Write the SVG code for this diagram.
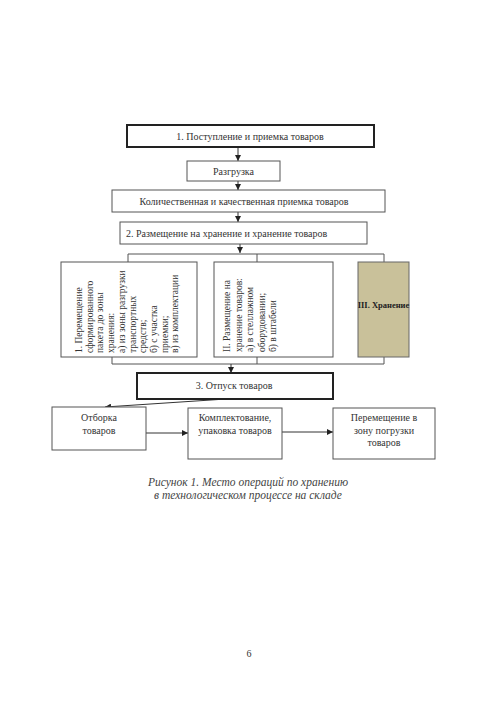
<svg xmlns="http://www.w3.org/2000/svg" width="500" height="710" viewBox="0 0 500 710">
<style>
.box{fill:#fff;stroke:#555;stroke-width:1}
.thick{fill:#fff;stroke:#222;stroke-width:2}
.khaki{fill:#c9c19a;stroke:#666;stroke-width:1}
text{font-family:"Liberation Serif","Times New Roman",serif;font-size:10px;fill:#333}
.c{text-anchor:middle}
.v{font-size:9.5px}
.b{font-weight:bold;font-size:8.5px;fill:#222}
.cap{font-style:italic;font-size:11.5px;text-anchor:middle;fill:#444}
.ln{fill:none;stroke:#555;stroke-width:1}
.ar{fill:none;stroke:#333;stroke-width:1;marker-end:url(#ah)}
</style>
<defs>
<marker id="ah" viewBox="0 0 10 10" refX="10" refY="5" markerWidth="6" markerHeight="6" markerUnits="userSpaceOnUse" orient="auto">
<path d="M0,0 L10,5 L0,10 z" fill="#222"/>
</marker>
</defs>
<rect width="500" height="710" fill="#fff"/>

<g id="connectors">
<line class="ar" x1="238" y1="147" x2="238" y2="161"/>
<line class="ar" x1="238" y1="181" x2="238" y2="190"/>
<line class="ar" x1="238" y1="212" x2="238" y2="222"/>
<line class="ar" x1="240" y1="244" x2="240" y2="253"/>
<polyline class="ln" points="128,262 128,254 384,254 384,262"/>
<line class="ln" x1="257" y1="254" x2="257" y2="262"/>
<polyline class="ln" points="112,357 112,364 384,364 384,357"/>
<line class="ln" x1="257" y1="357" x2="257" y2="364"/>
<line class="ar" x1="231" y1="364" x2="231" y2="373"/>
<line class="ar" x1="226" y1="399" x2="105" y2="407"/>
<line class="ar" x1="146" y1="433" x2="188" y2="433"/>
<line class="ar" x1="282" y1="432" x2="333" y2="432"/>
</g>

<g id="n1">
<rect class="thick" x="127" y="125" width="247" height="22"/>
<text class="c" x="250" y="139.5">1. Поступление и приемка товаров</text>
</g>
<g id="n2">
<rect class="box" x="187" y="161" width="93" height="20"/>
<text class="c" x="233.5" y="174.5">Разгрузка</text>
</g>
<g id="n3">
<rect class="box" x="112" y="190" width="273" height="22"/>
<text class="c" x="244" y="204.5">Количественная и качественная приемка товаров</text>
</g>
<g id="n4">
<rect class="box" x="120" y="222" width="247" height="22"/>
<text x="126" y="236.5">2. Размещение на хранение и хранение товаров</text>
</g>
<g id="n5">
<rect class="box" x="61" y="262" width="136" height="95"/>
<text class="v" transform="translate(82,353) rotate(-90)">1. Перемещение</text>
<text class="v" transform="translate(92.7,353) rotate(-90)">сформированного</text>
<text class="v" transform="translate(103.4,353) rotate(-90)">пакета до зоны</text>
<text class="v" transform="translate(114.1,353) rotate(-90)">хранения:</text>
<text class="v" transform="translate(124.8,353) rotate(-90)">а) из зоны разгрузки</text>
<text class="v" transform="translate(135.5,353) rotate(-90)">транспортных</text>
<text class="v" transform="translate(146.2,353) rotate(-90)">средств;</text>
<text class="v" transform="translate(156.9,353) rotate(-90)">б) с участка</text>
<text class="v" transform="translate(167.6,353) rotate(-90)">приемки;</text>
<text class="v" transform="translate(178.3,353) rotate(-90)">в) из комплектации</text>
</g>
<g id="n6">
<rect class="box" x="214" y="262" width="119" height="95"/>
<text class="v" transform="translate(230,352) rotate(-90)">II. Размещение на</text>
<text class="v" transform="translate(241.5,352) rotate(-90)">хранение товаров:</text>
<text class="v" transform="translate(253,352) rotate(-90)">а) в стеллажном</text>
<text class="v" transform="translate(264.5,352) rotate(-90)">оборудовании;</text>
<text class="v" transform="translate(276,352) rotate(-90)">б) в штабели</text>
</g>
<g id="n7">
<rect class="khaki" x="358" y="262" width="51" height="95"/>
<text class="c b" x="383.5" y="308">III. Хранение</text>
</g>
<g id="n8">
<rect class="thick" x="137" y="373" width="196" height="26"/>
<text class="c" x="234" y="389">3. Отпуск товаров</text>
</g>
<g id="n9">
<rect class="box" x="52" y="407" width="94" height="43"/>
<text class="c" x="99" y="421">Отборка</text>
<text class="c" x="99" y="434">товаров</text>
</g>
<g id="n10">
<rect class="box" x="188" y="408" width="94" height="51"/>
<text class="c" x="235" y="421">Комплектование,</text>
<text class="c" x="235" y="434">упаковка товаров</text>
</g>
<g id="n11">
<rect class="box" x="333" y="408" width="102" height="51"/>
<text class="c" x="384" y="421">Перемещение в</text>
<text class="c" x="384" y="433.5">зону погрузки</text>
<text class="c" x="384" y="446">товаров</text>
</g>

<text class="cap" x="248" y="486">Рисунок 1. Место операций по хранению</text>
<text class="cap" x="248" y="498.5">в технологическом процессе на складе</text>
<text class="c" x="249" y="657">6</text>
</svg>
